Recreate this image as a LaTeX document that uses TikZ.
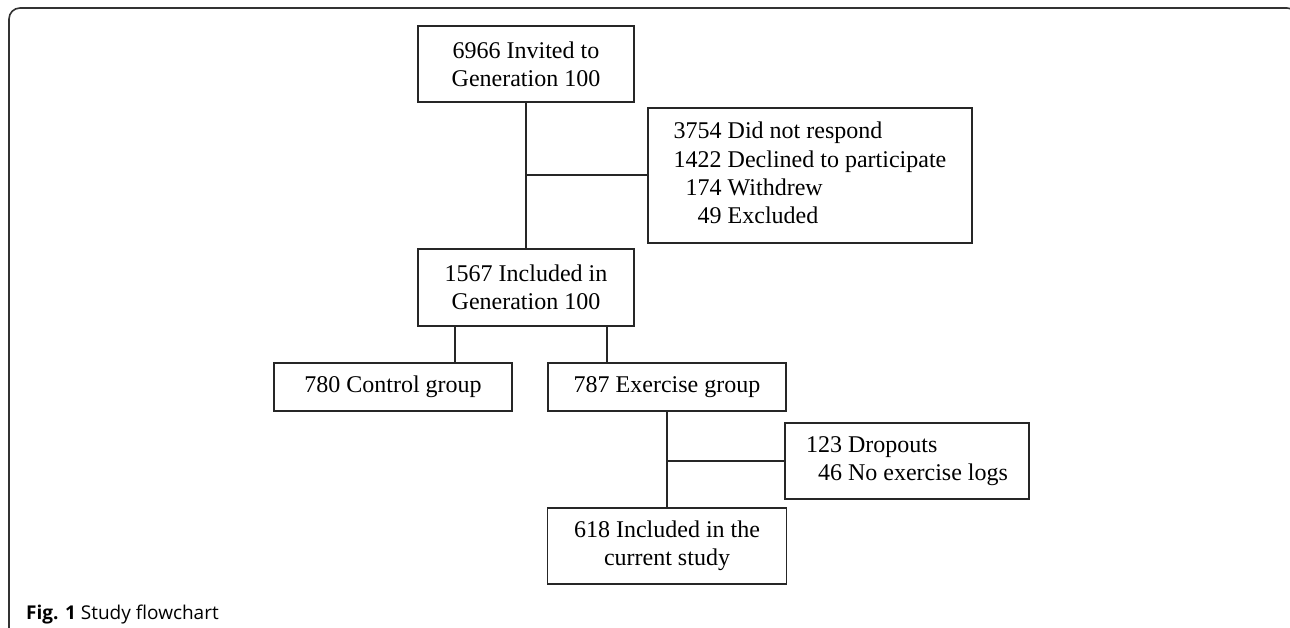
\documentclass[tikz,border=0pt]{standalone}
\usepackage{fontspec}
\setmainfont{Liberation Serif}
\newfontfamily\capfont{Open Sans}
\begin{document}
\begin{tikzpicture}[x=1pt,y=-1pt,
  box/.style={draw=black!85,line width=1.4pt,inner sep=0pt,align=center,
    font=\fontsize{24}{28.3}\selectfont},
  link/.style={draw=black!85,line width=1.4pt}]
\useasboundingbox (0,0) rectangle (1290,628);
\clip (0,0) rectangle (1290,628);
\draw[line width=1.6pt,draw=black!80,rounded corners=11pt] (9,660) -- (9,8) -- (1298,8) -- (1298,660);

\node[box,minimum width=216pt,minimum height=76pt] (b1) at (526,64) {6966 Invited to\\Generation 100};
\node[box,minimum width=216pt,minimum height=77pt] (b2) at (526,287.5) {1567 Included in\\Generation 100};
\node[box,minimum width=324pt,minimum height=135pt] (excl) at (810,175.5)
  {\begin{tabular}{@{}r@{ }l@{}}3754 & Did not respond\\1422 & Declined to participate\\174 & Withdrew\\49 & Excluded\end{tabular}};
\node[box,minimum width=238pt,minimum height=48pt] (ctrl) at (393,387) {780 Control group};
\node[box,minimum width=238pt,minimum height=48pt] (ex) at (667,387) {787 Exercise group};
\node[box,minimum width=244pt,minimum height=76pt] (drop) at (907,461)
  {\begin{tabular}{@{}r@{ }l@{}}123 & Dropouts\\46 & No exercise logs\end{tabular}};
\node[box,minimum width=239pt,minimum height=76pt] (inc) at (667,546) {618 Included in the\\current study};

\coordinate (j1) at (526,175);
\coordinate (j2) at (667,461);
\coordinate (xl) at (455,0);
\coordinate (xr) at (607,0);

\draw[link] (b1.south) -- (b2.north);
\draw[link] (j1) -- (j1 -| excl.west);
\draw[link] (b2.south -| xl) -- (ctrl.north -| xl);
\draw[link] (b2.south -| xr) -- (ex.north -| xr);
\draw[link] (ex.south) -- (ex.south |- inc.north);
\draw[link] (j2) -- (j2 -| drop.west);

\node[anchor=base west,inner sep=0pt,font=\capfont\fontsize{19}{22}\selectfont] (cap) at (26,619)
  {\textbf{Fig. 1} Study flowchart};
\end{tikzpicture}
\end{document}
